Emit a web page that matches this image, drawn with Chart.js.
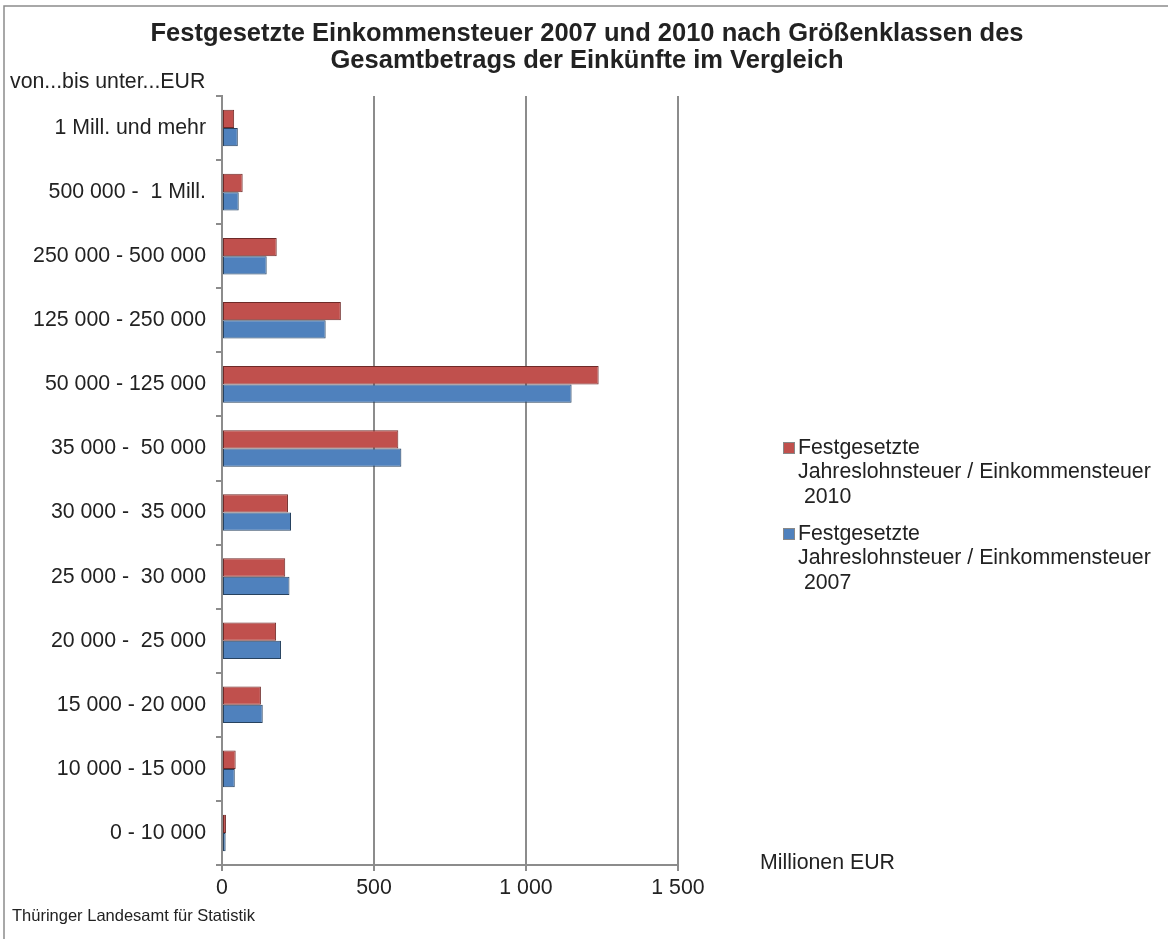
<!DOCTYPE html>
<html>
<head>
<meta charset="utf-8">
<script src="https://cdn.jsdelivr.net/npm/chart.js@4.4.1/dist/chart.umd.min.js"></script>
<style>
  html, body { margin: 0; padding: 0; background: #fff; }
  #wrap { width: 1168px; height: 939px; position: relative; }
</style>
</head>
<body>
<div id="wrap"><canvas id="chart" width="1168" height="939"></canvas></div>
<script>
// Größenklassen (von oben nach unten)
const categories = [
    '1 Mill. und mehr',
    '500 000 -  1 Mill.',
    '250 000 - 500 000',
    '125 000 - 250 000',
    '50 000 - 125 000',
    '35 000 -  50 000',
    '30 000 -  35 000',
    '25 000 -  30 000',
    '20 000 -  25 000',
    '15 000 - 20 000',
    '10 000 - 15 000',
    '0 - 10 000'
];

// Millionen EUR
const values2010 = [40, 68, 180, 391, 1239, 580, 217, 208, 178, 128, 45, 13];
const values2007 = [52, 55, 147, 341, 1150, 590, 227, 222, 194, 134, 42, 12];

const seriesLabels = [
    ['Festgesetzte', 'Jahreslohnsteuer / Einkommensteuer', ' 2010'],
    ['Festgesetzte', 'Jahreslohnsteuer / Einkommensteuer', ' 2007']
];

const xTicks = [0, 500, 1000, 1500];

const titleLines = [
    'Festgesetzte Einkommensteuer 2007 und 2010 nach Größenklassen des',
    'Gesamtbetrags der Einkünfte im Vergleich'
];

const FONT = '"Liberation Sans", Arial, sans-serif';
const TEXT = '#222222';

// Extra texts, frame and a legend with multi-line labels
const decorations = {
    id: 'decorations',
    afterDraw(chart) {
        const c = chart.ctx;
        c.save();
        // frame (top + left)
        c.strokeStyle = '#8c8c8c';
        c.lineWidth = 1.5;
        c.beginPath();
        c.moveTo(4, 939);
        c.lineTo(4, 6);
        c.lineTo(1168, 6);
        c.stroke();

        c.fillStyle = TEXT;
        c.textBaseline = 'middle';
        c.textAlign = 'center';
        c.font = 'bold 25.5px ' + FONT;
        c.fillText(titleLines[0], 587, 34);
        c.fillText(titleLines[1], 587, 61);

        c.textAlign = 'left';
        c.font = '21.3px ' + FONT;
        c.fillText('von...bis unter...EUR', 10, 82);
        c.fillText('Millionen EUR', 760, 863);

        c.font = '16.5px ' + FONT;
        c.fillText('Thüringer Landesamt für Statistik', 12, 916);

        // legend
        c.font = '21.3px ' + FONT;
        const tops = [448, 534];
        chart.data.datasets.forEach((ds, i) => {
            const y = tops[i];
            c.fillStyle = ds.backgroundColor;
            c.fillRect(783, y - 6, 12, 12);
            c.strokeStyle = '#888';
            c.lineWidth = 1;
            c.strokeRect(783.5, y - 5.5, 11, 11);
            c.fillStyle = TEXT;
            seriesLabels[i].forEach((line, j) => {
                c.fillText(line, 798, y + j * 24.5);
            });
        });
        c.restore();
    }
};

new Chart(document.getElementById('chart'), {
    type: 'bar',
    data: {
        labels: categories,
        datasets: [
            {
                label: seriesLabels[0].join(' '),
                data: values2010,
                backgroundColor: '#c0504d',
                borderColor: '#6e2a28',
                borderWidth: 1,
                borderSkipped: false,
                categoryPercentage: 0.57,
                barPercentage: 1.0
            },
            {
                label: seriesLabels[1].join(' '),
                data: values2007,
                backgroundColor: '#4f81bd',
                borderColor: '#27425f',
                borderWidth: 1,
                borderSkipped: false,
                categoryPercentage: 0.57,
                barPercentage: 1.0
            }
        ]
    },
    options: {
        responsive: false,
        animation: false,
        indexAxis: 'y',
        layout: {
            padding: { left: 8, right: 490, top: 96, bottom: 0 }
        },
        plugins: {
            legend: { display: false },
            title: { display: false },
            tooltip: { enabled: false }
        },
        scales: {
            x: {
                min: 0,
                max: 1500,
                afterBuildTicks(scale) {
                    scale.ticks = xTicks.map(v => ({ value: v }));
                },
                afterFit(scale) {
                    scale.height = 74;
                },
                ticks: {
                    color: TEXT,
                    font: { family: FONT, size: 21.3 },
                    padding: 4,
                    callback: v => v.toLocaleString('de-DE').replace('.', ' ')
                },
                grid: {
                    color: '#8c8c8c',
                    lineWidth: 2,
                    drawTicks: true,
                    tickLength: 6
                },
                border: { color: '#8c8c8c', width: 2 }
            },
            y: {
                afterFit(scale) {
                    scale.width = 214;
                },
                ticks: {
                    color: TEXT,
                    font: { family: FONT, size: 21.3 },
                    padding: 10
                },
                grid: {
                    drawOnChartArea: false,
                    drawTicks: true,
                    tickLength: 6,
                    color: '#8c8c8c',
                    lineWidth: 2
                },
                border: { color: '#8c8c8c', width: 2 }
            }
        }
    },
    plugins: [decorations]
});
</script>
</body>
</html>
